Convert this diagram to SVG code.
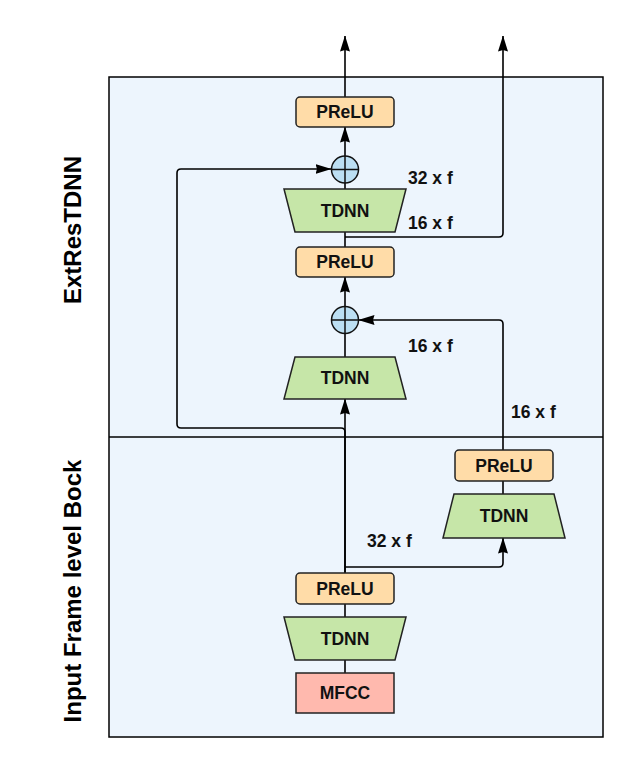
<svg xmlns="http://www.w3.org/2000/svg" width="643" height="777" viewBox="0 0 643 777">
<style>
.frame{fill:#edf5fd;stroke:#000;stroke-width:1.5}
.prelu{fill:#ffdca8;stroke:#222;stroke-width:1.5}
.tdnn{fill:#c6e6a8;stroke:#222;stroke-width:1.5}
.mfcc{fill:#ffb9ae;stroke:#222;stroke-width:1.5}
.sum{fill:#bcdff3;stroke:#111;stroke-width:1.5}
.t{font-family:"Liberation Sans",Arial,sans-serif;font-weight:bold;font-size:17.5px;fill:#111;text-anchor:middle}
.lbl{font-family:"Liberation Sans",Arial,sans-serif;font-weight:bold;font-size:17.5px;fill:#111}
.side{font-family:"Liberation Sans",Arial,sans-serif;font-weight:bold;font-size:24px;fill:#000;text-anchor:middle}
.c{fill:none;stroke:#000;stroke-width:1.6}
.a{marker-end:url(#arr)}
</style>
<defs>
<marker id="arr" markerWidth="16" markerHeight="10" refX="15.5" refY="5" orient="auto" markerUnits="userSpaceOnUse">
<path d="M0,0 L16,5 L0,10 L1.5,5 Z" fill="#000"/>
</marker>
</defs>
<rect width="643" height="777" fill="#fff"/>
<g id="frame">
<rect class="frame" x="109" y="77" width="494" height="660"/>
<line x1="109" y1="437" x2="603" y2="437" stroke="#000" stroke-width="1.5"/>
<text class="side" transform="translate(81,230) rotate(-90)">ExtResTDNN</text>
<text class="side" transform="translate(81,591) rotate(-90)">Input Frame level Bock</text>
</g>
<g id="connectors">
<path class="c a" d="M345,97 V36"/>
<path class="c a" d="M345,156 V127"/>
<path class="c" d="M345,189 V183"/>
<path class="c" d="M345,247 V232"/>
<path class="c a" d="M345,237 H499 Q503,237 503,233 V36"/>
<path class="c a" d="M345,306 V277"/>
<path class="c" d="M345,357 V334"/>
<path class="c a" d="M345,573 V399"/>
<path class="c a" d="M345,573 V432 Q345,428 341,428 H181 Q177,428 177,424 V173 Q177,169 181,169 H331"/>
<path class="c a" d="M503,450 V324 Q503,320 499,320 H359"/>
<path class="c" d="M503,494 V481"/>
<path class="c a" d="M345,567 H499 Q503,567 503,563 V538"/>
<path class="c" d="M345,617 V604"/>
<path class="c" d="M345,673 V660"/>
</g>
<g id="prelu-top">
<rect class="prelu" x="296" y="97" width="98" height="30" rx="4"/>
<text class="t" x="345" y="118">PReLU</text>
</g>
<g id="sum-top">
<circle class="sum" cx="345" cy="169.5" r="13.5"/>
<path d="M331.5,169.5 H358.5 M345,156 V183" stroke="#111" stroke-width="1.5"/>
</g>
<g id="tdnn-top">
<polygon class="tdnn" points="284,189 406,189 395,232 295,232"/>
<text class="t" x="345" y="217">TDNN</text>
</g>
<g id="prelu-mid">
<rect class="prelu" x="296" y="247" width="98" height="30" rx="4"/>
<text class="t" x="345" y="268">PReLU</text>
</g>
<g id="sum-mid">
<circle class="sum" cx="345" cy="320" r="13.5"/>
<path d="M331.5,320 H358.5 M345,306.5 V333.5" stroke="#111" stroke-width="1.5"/>
</g>
<g id="tdnn-mid">
<polygon class="tdnn" points="295,357 395,357 406,399 284,399"/>
<text class="t" x="345" y="384">TDNN</text>
</g>
<g id="prelu-right">
<rect class="prelu" x="455" y="450" width="98" height="31" rx="4"/>
<text class="t" x="504" y="472">PReLU</text>
</g>
<g id="tdnn-right">
<polygon class="tdnn" points="454,494 554,494 565,538 443,538"/>
<text class="t" x="504" y="522">TDNN</text>
</g>
<g id="prelu-bottom">
<rect class="prelu" x="296" y="573" width="98" height="31" rx="4"/>
<text class="t" x="345" y="595">PReLU</text>
</g>
<g id="tdnn-bottom">
<polygon class="tdnn" points="284,617 406,617 395,660 295,660"/>
<text class="t" x="345" y="645">TDNN</text>
</g>
<g id="mfcc">
<rect class="mfcc" x="296" y="673" width="98" height="40"/>
<text class="t" x="345" y="699">MFCC</text>
</g>
<g id="labels">
<text class="lbl" x="408" y="184">32 x f</text>
<text class="lbl" x="408" y="229">16 x f</text>
<text class="lbl" x="408" y="352">16 x f</text>
<text class="lbl" x="511" y="418">16 x f</text>
<text class="lbl" x="367" y="547">32 x f</text>
</g>
</svg>
